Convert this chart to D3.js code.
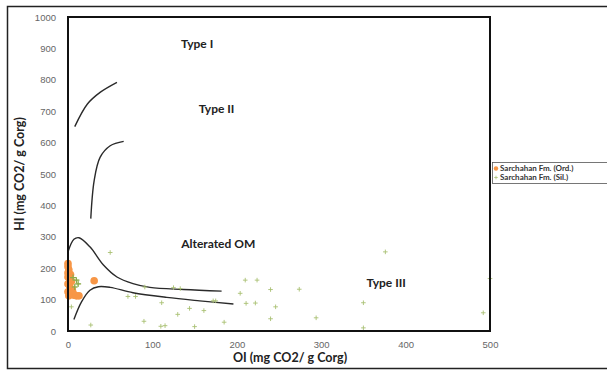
<!DOCTYPE html>
<html>
<head>
<meta charset="utf-8">
<script src="https://cdn.jsdelivr.net/npm/d3@7"></script>
<style>
  body { margin: 0; background: #fff; }
  svg { display: block; font-family: Lato, "Open Sans", sans-serif; }
</style>
</head>
<body>
<svg id="chart" width="607" height="371"></svg>
<script>
// Sarchahan Fm. (Ord.) samples [OI, HI]
const ordPoints = [
  [0, 215], [0, 205], [1, 195], [0, 185], [3, 180], [0, 172], [2, 165], [4, 158],
  [0, 150], [2, 142], [5, 132], [0, 125], [3, 118], [7, 114], [10, 112], [13, 112],
  [6, 122], [1, 112], [31, 160]
];

// Sarchahan Fm. (Sil.) samples [OI, HI]
const silPoints = [
  [50, 250], [10, 162], [12, 150], [8, 140], [6, 170], [4, 77], [27, 19],
  [71, 110], [80, 110], [91, 140], [125, 138], [133, 135], [111, 90], [144, 72],
  [161, 65], [130, 53], [90, 31], [110, 15], [115, 17], [150, 14], [185, 28],
  [172, 96], [175, 96], [210, 162], [224, 162], [204, 120], [240, 132], [211, 88],
  [222, 89], [246, 77], [240, 39], [274, 133], [294, 42], [350, 90], [350, 10],
  [376, 252], [492, 58], [500, 167]
];

// boundary curves [OI, HI]
const typeICurve = [[8, 651], [23, 723], [38, 760], [58, 792]];
const typeIICurve = [[27, 358], [31, 479], [38, 553], [50, 590], [66, 604]];
const upperCurve = [[0, 252], [7, 292], [13, 297], [26, 268], [42, 210], [58, 172],
  [77, 151], [97, 139], [137, 132], [182, 127]];
const lowerCurve = [[7, 37], [16, 93], [26, 130], [36, 141], [50, 139], [77, 122],
  [117, 107], [156, 96], [196, 86]];

// region labels [text, OI, HI]
const regionLabels = [
  ["Type I", 153, 914], ["Type II", 176, 708], ["Alterated OM", 178, 279], ["Type III", 377, 153]
];

const xTicks = [0, 100, 200, 300, 400, 500];
const yTicks = [0, 100, 200, 300, 400, 500, 600, 700, 800, 900, 1000];
const legendItems = ["Sarchahan Fm. (Ord.)", "Sarchahan Fm. (Sil.)"];

const svg = d3.select('#chart');
const margin = { top: 17, right: 117, bottom: 40, left: 68 };
const width = 607 - margin.left - margin.right;
const height = 371 - margin.top - margin.bottom;

// plain "+" marker
const plus = (s) => `M${-s},0H${s}M0,${-s}V${s}`;

// outer frame
svg.append('path')
  .attr('d', 'M607,6.5 H7.5 V368.5 H607')
  .attr('fill', 'none').attr('stroke', '#222').attr('stroke-width', 1.5);

const x = d3.scaleLinear().domain([0, 500]).range([0, width]);
const y = d3.scaleLinear().domain([0, 1000]).range([height, 0]);

const g = svg.append('g')
  .attr('transform', `translate(${margin.left},${margin.top})`);

g.append('g')
  .attr('transform', `translate(0,${height})`)
  .call(d3.axisBottom(x).tickValues(xTicks).tickSize(0).tickPadding(10).tickFormat(d3.format('d')))
  .call((a) => a.select('.domain').remove())
  .selectAll('text').attr('fill', '#666').attr('font-size', 9.5);

g.append('g')
  .call(d3.axisLeft(y).tickValues(yTicks).tickSize(0).tickPadding(12).tickFormat(d3.format('d')))
  .call((a) => a.select('.domain').remove())
  .selectAll('text').attr('fill', '#666').attr('font-size', 9.5);

const line = d3.line()
  .x((d) => x(d[0]))
  .y((d) => y(d[1]))
  .curve(d3.curveCatmullRom.alpha(0.5));

[typeICurve, typeIICurve, upperCurve, lowerCurve].forEach((c) => {
  g.append('path')
    .attr('d', line(c))
    .attr('fill', 'none')
    .attr('stroke', '#2a2a2a')
    .attr('stroke-width', 1.4);
});

// Sil. crosses
g.selectAll('.sil')
  .data(silPoints)
  .enter()
  .append('path')
  .attr('class', 'sil')
  .attr('d', plus(2.3))
  .attr('transform', (d) => `translate(${x(d[0])},${y(d[1])})`)
  .attr('fill', 'none')
  .attr('stroke', '#a9c173')
  .attr('stroke-width', 0.9);

g.selectAll('.ord')
  .data(ordPoints)
  .enter()
  .append('circle')
  .attr('class', 'ord')
  .attr('cx', (d) => x(d[0]))
  .attr('cy', (d) => y(d[1]))
  .attr('r', 3.8)
  .attr('fill', '#f79646');

// Sil. points inside the orange cluster drawn on top
g.selectAll('.silTop')
  .data(silPoints.filter((d) => d[0] < 15 && d[1] > 130))
  .enter()
  .append('path')
  .attr('d', plus(3))
  .attr('transform', (d) => `translate(${x(d[0])},${y(d[1])})`)
  .attr('fill', 'none')
  .attr('stroke', '#8aab4a')
  .attr('stroke-width', 1.1);

// plot border
g.append('rect')
  .attr('width', width).attr('height', height)
  .attr('fill', 'none').attr('stroke', '#111').attr('stroke-width', 2);

g.selectAll('.region')
  .data(regionLabels)
  .enter()
  .append('text')
  .attr('x', (d) => x(d[1]))
  .attr('y', (d) => y(d[2]))
  .attr('dy', '0.35em')
  .attr('text-anchor', 'middle')
  .attr('font-size', 12)
  .attr('font-weight', 'bold')
  .attr('fill', '#222')
  .text((d) => d[0]);

// axis titles
svg.append('text')
  .attr('x', margin.left + width / 2 + 11)
  .attr('y', 362)
  .attr('text-anchor', 'middle')
  .attr('font-size', 12.5)
  .attr('font-weight', 'bold')
  .attr('fill', '#222')
  .text('OI (mg CO2/ g Corg)');

svg.append('text')
  .attr('transform', `translate(24,${margin.top + height / 2}) rotate(-90)`)
  .attr('text-anchor', 'middle')
  .attr('font-size', 12.5)
  .attr('font-weight', 'bold')
  .attr('fill', '#222')
  .text('HI (mg CO2/ g Corg)');

// legend
const legend = svg.append('g').attr('transform', 'translate(492,162)');
legend.append('rect')
  .attr('x', 0.5).attr('y', 0.5).attr('width', 120).attr('height', 21)
  .attr('fill', '#fff').attr('stroke', '#555').attr('stroke-width', 0.8);
legendItems.forEach((name, i) => {
  const row = legend.append('g').attr('transform', `translate(4,${6.5 + i * 9})`);
  if (i === 0) {
    row.append('circle').attr('r', 2.2).attr('fill', '#f79646');
  } else {
    row.append('path').attr('d', plus(1.8))
      .attr('fill', 'none').attr('stroke', '#a9c173').attr('stroke-width', 0.8);
  }
  row.append('text')
    .attr('x', 4).attr('dy', '0.35em')
    .attr('font-size', 8).attr('font-weight', 'bold').attr('fill', '#333')
    .text(name);
});
</script>
</body>
</html>
